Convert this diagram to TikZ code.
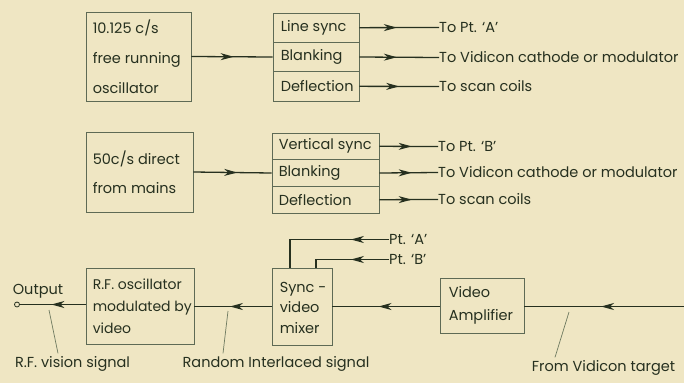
\documentclass[tikz,border=0pt]{standalone}
\usepackage{fontspec}
\setmainfont{Poppins}
\usetikzlibrary{arrows.meta,decorations.markings}
\definecolor{bg}{HTML}{EFE6C3}
\definecolor{ink}{HTML}{26301F}
\definecolor{boxc}{HTML}{5E6A55}
\definecolor{annc}{HTML}{6E7A60}
\begin{document}
\begin{tikzpicture}[x=1pt,y=-1pt,
  box/.style={draw=boxc, line width=0.9pt, inner sep=0pt, anchor=center},
  btxt/.style={text=ink, align=left, inner sep=0pt, anchor=west},
  lbl/.style={text=ink, inner sep=0pt, font=\fontsize{14.5}{16}\selectfont},
  conn/.style={draw=ink, line width=1.3pt},
  midarrow/.style={decoration={markings, mark=at position #1 with {\arrow{Stealth[length=13pt,width=7pt,inset=4pt]}}}, postaction={decorate}},
  ann/.style={draw=annc, line width=0.7pt}]
\fill[bg] (0,0) rectangle (684,383);
\useasboundingbox (0,0) rectangle (684,383);

% group 1
\node[box, minimum width=105pt, minimum height=89pt] (osc1) at (138.5,56.5) {};
\node[btxt, font=\fontsize{14.5}{30}\selectfont] (osc1t) at ([xshift=7pt]osc1.west) {10.125 c/s\\free running\\oscillator};
\node[box, minimum width=86pt, minimum height=29.33pt] (s1a) at (316,27.67) {};
\node[box, minimum width=86pt, minimum height=29.33pt] (s1b) at (316,57) {};
\node[box, minimum width=86pt, minimum height=29.33pt] (s1c) at (316,86.33) {};
\node[btxt, font=\fontsize{14.5}{18}\selectfont] (s1at) at ([xshift=8pt]s1a.west) {Line sync};
\node[btxt, font=\fontsize{14.5}{18}\selectfont] (s1bt) at ([xshift=8pt]s1b.west) {Blanking};
\node[btxt, font=\fontsize{14.5}{18}\selectfont] (s1ct) at ([xshift=8pt]s1c.west) {Deflection};
\node[lbl, anchor=west] (tA) at (439,27.5) {To Pt. `A'};
\node[lbl, anchor=west] (tV1) at (439,57.5) {To Vidicon cathode or modulator};
\node[lbl, anchor=west] (tS1) at (439,86.5) {To scan coils};
\draw[conn, midarrow=0.52] (osc1.east) -- (s1b.west);
\draw[conn, midarrow=0.47] (s1a.east) -- (tA.west);
\draw[conn, midarrow=0.47] (s1b.east) -- (tV1.west);
\draw[conn, midarrow=0.5] (s1c.east) -- (tS1.west);

% group 2
\node[box, minimum width=107pt, minimum height=80pt] (osc2) at (139.5,172) {};
\node[btxt, font=\fontsize{14.5}{29}\selectfont] (osc2t) at ([xshift=7pt]osc2.west) {50c/s direct\\from mains};
\node[box, minimum width=107pt, minimum height=26.67pt] (s2a) at (325.5,146.3) {};
\node[box, minimum width=107pt, minimum height=26.67pt] (s2b) at (325.5,173) {};
\node[box, minimum width=107pt, minimum height=26.67pt] (s2c) at (325.5,199.7) {};
\node[btxt, font=\fontsize{14.5}{18}\selectfont] (s2at) at ([xshift=7pt]s2a.west) {Vertical sync};
\node[btxt, font=\fontsize{14.5}{18}\selectfont] (s2bt) at ([xshift=7pt]s2b.west) {Blanking};
\node[btxt, font=\fontsize{14.5}{18}\selectfont] (s2ct) at ([xshift=7pt]s2c.west) {Deflection};
\node[lbl, anchor=west] (tB) at (438,146.5) {To Pt. `B'};
\node[lbl, anchor=west] (tV2) at (438,172.5) {To Vidicon cathode or modulator};
\node[lbl, anchor=west] (tS2) at (438,199.5) {To scan coils};
\draw[conn, midarrow=0.56] (osc2.east) -- (s2b.west);
\draw[conn, midarrow=0.55] (s2a.east) -- (tB.west);
\draw[conn, midarrow=0.55] (s2b.east) -- (tV2.west);
\draw[conn, midarrow=0.55] (s2c.east) -- (tS2.west);

% bottom chain
\node[box, minimum width=108pt, minimum height=76pt] (rf) at (140,306) {};
\node[btxt, font=\fontsize{14}{22}\selectfont] (rft) at ([xshift=7pt]rf.west) {R.F. oscillator\\modulated by\\video};
\node[box, minimum width=60pt, minimum height=77pt] (mix) at (302,306.5) {};
\node[btxt, font=\fontsize{14.5}{20.5}\selectfont] (mixt) at ([xshift=8pt,yshift=-1pt]mix.west) {Sync -\\video\\mixer};
\node[box, minimum width=84pt, minimum height=55pt] (vamp) at (482,305.5) {};
\node[btxt, font=\fontsize{14.5}{23}\selectfont] (vampt) at ([xshift=9pt]vamp.west) {Video\\Amplifier};
\node[circle, draw=ink, line width=0.8pt, minimum size=5pt, inner sep=0pt] (out) at (17,304.5) {};
\node[lbl] (outlbl) at (38,291) {Output};
\coordinate (vin) at (684,306.5);
\draw[conn, midarrow=0.52] (vin) -- (vamp.east |- vin);
\draw[conn, midarrow=0.57] (vamp.west |- vin) -- (mix.east |- vin);
\draw[conn, midarrow=0.54] (mix.west |- vin) -- (rf.east |- vin);
\draw[conn, midarrow=0.52] (out.east -| rf.west) -- (out.east);

\node[lbl, anchor=west] (pA) at (389,239.5) {Pt. `A'};
\node[lbl, anchor=west] (pB) at (389,259.5) {Pt. `B'};
\coordinate (ca) at (290,239.5);
\coordinate (cb) at (316,259.5);
\draw[conn, midarrow=0.30] (pA.west) -- (ca) -- (ca |- mix.north);
\draw[conn, midarrow=0.47] (pB.west) -- (cb) -- (cb |- mix.north);

% annotations
\node[lbl] (rfv) at (72.5,364) {R.F. vision signal};
\node[lbl] (ris) at (276,364) {Random Interlaced signal};
\node[lbl] (fvt) at (603.5,368) {From Vidicon target};
\coordinate (ra) at (49,310);
\coordinate (rb) at (228,311);
\coordinate (rc) at (569,312);
\draw[ann] ([xshift=-14.5pt,yshift=3pt]rfv.north) -- (ra);
\draw[ann] ([xshift=-53pt,yshift=3pt]ris.north) -- (rb);
\draw[ann] ([xshift=-48.5pt,yshift=3pt]fvt.north) -- (rc);
\end{tikzpicture}
\end{document}
